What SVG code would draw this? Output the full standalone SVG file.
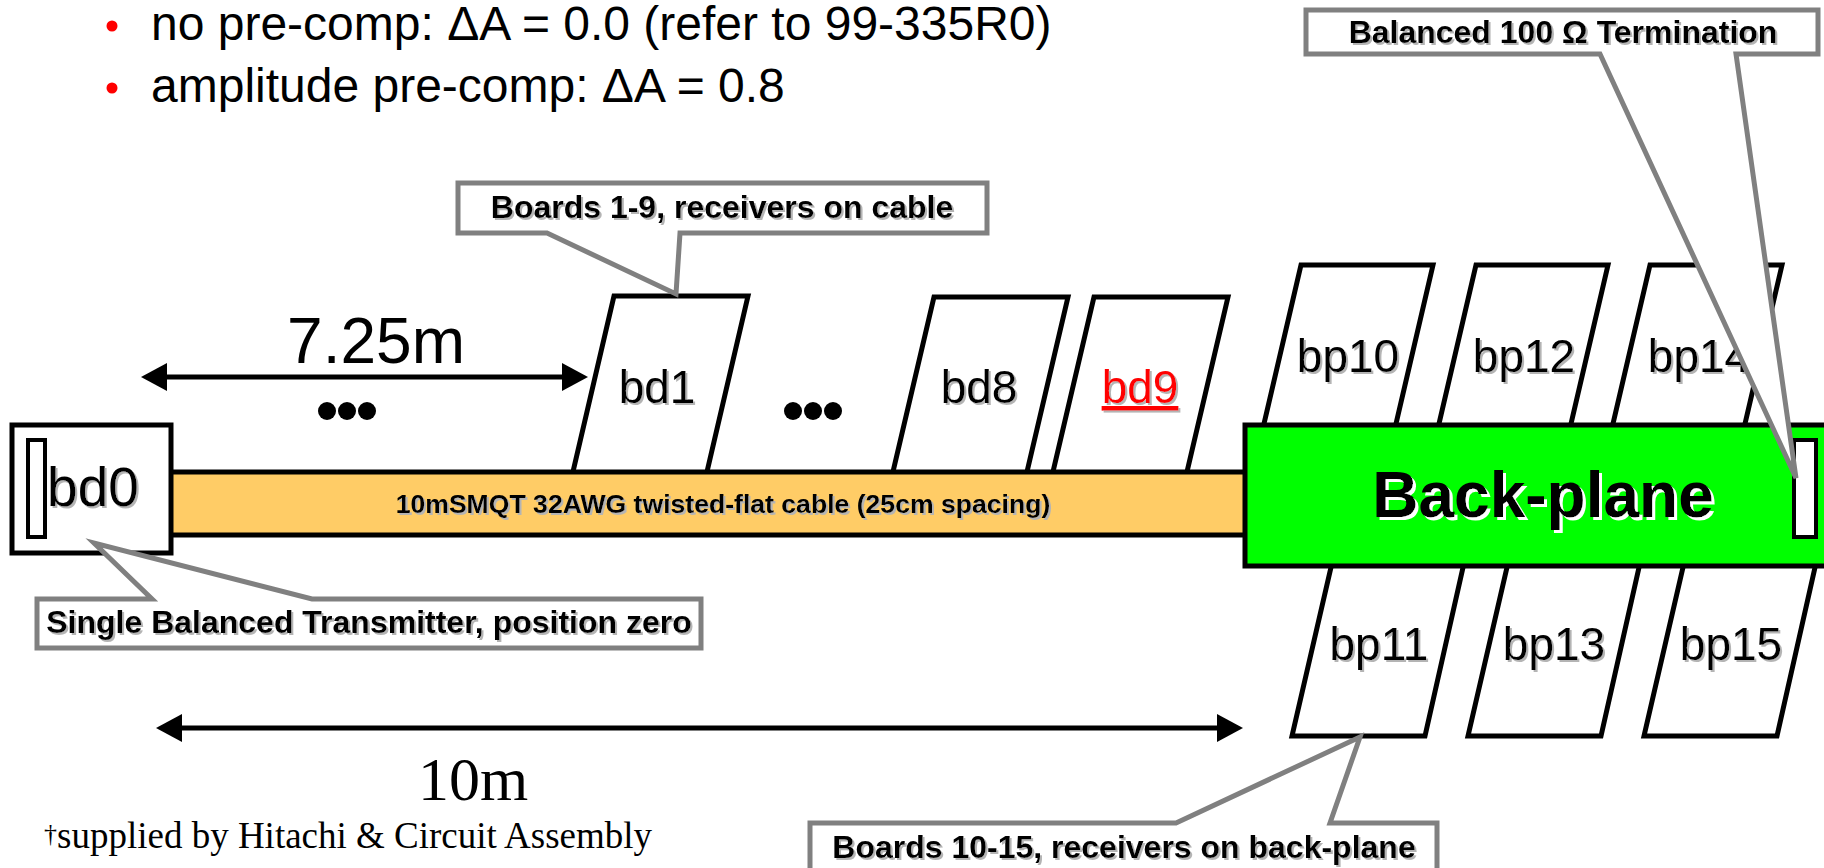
<svg xmlns="http://www.w3.org/2000/svg" width="1824" height="868" viewBox="0 0 1824 868">
<defs>
<style>
.sans{font-family:"Liberation Sans",Arial,sans-serif}
.serif{font-family:"Liberation Serif","Times New Roman",serif}
.board{fill:#fff;stroke:#000;stroke-width:5;stroke-linejoin:miter}
.lbl{font-family:"Liberation Sans",Arial,sans-serif;font-size:46px;fill:#000;text-anchor:middle;filter:url(#sh)}
.call{fill:#fff;stroke:#808080;stroke-width:5;stroke-linejoin:miter}
.ctxt{font-family:"Liberation Sans",Arial,sans-serif;font-size:32px;font-weight:bold;fill:#000;text-anchor:middle;filter:url(#sh)}
.dim{stroke:#000;stroke-width:5;fill:none}
.dot{fill:#000}
</style>
<filter id="sh" x="-10%" y="-10%" width="130%" height="140%">
<feDropShadow dx="2" dy="2" stdDeviation="0" flood-color="#b4b4b4" flood-opacity="1"/>
</filter>
<filter id="wsh" x="-10%" y="-10%" width="130%" height="140%">
<feDropShadow dx="3" dy="3" stdDeviation="0" flood-color="#ffffff" flood-opacity="1"/>
</filter>
<marker id="ah" viewBox="0 -14 26 28" refX="0" refY="0" markerWidth="26" markerHeight="28" markerUnits="userSpaceOnUse" orient="auto-start-reverse">
<path d="M0,-14 L26,0 L0,14 Z" fill="#000"/>
</marker>
</defs>
<rect width="1824" height="868" fill="#fff"/>

<g id="bullets" class="sans">
<circle cx="112" cy="26" r="5.5" fill="#ff0000"/>
<text x="151" y="40" font-size="48">no pre-comp: ΔA = 0.0 (refer to 99-335R0)</text>
<circle cx="112" cy="88" r="5.5" fill="#ff0000"/>
<text x="151" y="102" font-size="48">amplitude pre-comp: ΔA = 0.8</text>
</g>

<!-- boards on cable -->
<g id="bd1"><polygon class="board" points="614,296 748,296 706,476 572,476"/><text class="lbl" x="657" y="403">bd1</text></g>
<g id="bd8"><polygon class="board" points="934,297 1068,297 1026,476 892,476"/><text class="lbl" x="979" y="403">bd8</text></g>
<g id="bd9"><polygon class="board" points="1094,297 1228,297 1186,476 1052,476"/><text class="lbl" x="1140" y="403" fill="#ff0000" style="fill:#ff0000" text-decoration="underline">bd9</text></g>

<!-- back-plane boards top -->
<g id="bp10"><polygon class="board" points="1301,265 1433,265 1395,428 1263,428"/><text class="lbl" x="1348" y="372">bp10</text></g>
<g id="bp12"><polygon class="board" points="1476,265 1608,265 1570,428 1438,428"/><text class="lbl" x="1524" y="372">bp12</text></g>
<g id="bp14"><polygon class="board" points="1650,265 1782,265 1744,428 1612,428"/><text class="lbl" x="1699" y="372">bp14</text></g>

<!-- back-plane boards bottom -->
<g id="bp11"><polygon class="board" points="1332,563 1464,563 1425,736 1292,736"/><text class="lbl" x="1379" y="660">bp11</text></g>
<g id="bp13"><polygon class="board" points="1508,563 1640,563 1601,736 1468,736"/><text class="lbl" x="1554" y="660">bp13</text></g>
<g id="bp15"><polygon class="board" points="1684,563 1816,563 1777,736 1644,736"/><text class="lbl" x="1731" y="660">bp15</text></g>

<g id="cable">
<rect x="170" y="472" width="1076" height="63" fill="#ffcc66" stroke="#000" stroke-width="5"/>
<text class="sans" x="723" y="513" font-size="26.6" font-weight="bold" text-anchor="middle" filter="url(#sh)">10mSMQT 32AWG twisted-flat cable (25cm spacing)</text>
</g>

<g id="bd0">
<rect x="12" y="425" width="159" height="128" fill="#fff" stroke="#000" stroke-width="5"/>
<rect x="28" y="440" width="17" height="97" fill="#fff" stroke="#000" stroke-width="4"/>
<text class="lbl" x="93" y="506" style="font-size:55px">bd0</text>
</g>

<g id="backplane">
<rect x="1245" y="425" width="600" height="141" fill="#00ff00" stroke="#000" stroke-width="5"/>
<text class="sans" x="1543" y="517" font-size="64" font-weight="bold" text-anchor="middle" filter="url(#wsh)">Back-plane</text>
</g>

<g id="termination"><rect x="1794" y="440" width="22" height="97" fill="#fff" stroke="#000" stroke-width="4"/></g>

<g id="dots1"><circle class="dot" cx="327" cy="411" r="9"/><circle class="dot" cx="347" cy="411" r="9"/><circle class="dot" cx="367" cy="411" r="9"/></g>
<g id="dots2"><circle class="dot" cx="793" cy="411" r="9"/><circle class="dot" cx="813" cy="411" r="9"/><circle class="dot" cx="833" cy="411" r="9"/></g>

<g id="connectors">
<line class="dim" x1="167" y1="377" x2="562" y2="377" marker-start="url(#ah)" marker-end="url(#ah)"/>
<line class="dim" x1="182" y1="728" x2="1217" y2="728" marker-start="url(#ah)" marker-end="url(#ah)"/>
</g>

<g id="dim-labels">
<text class="sans" x="376" y="363" font-size="64" text-anchor="middle">7.25m</text>
<text class="serif" x="473" y="800" font-size="62" text-anchor="middle">10m</text>
<text class="serif" x="44" y="848" font-size="37"><tspan font-size="26" dy="-6">†</tspan><tspan dy="6">supplied by Hitachi &amp; Circuit Assembly</tspan></text>
</g>

<g id="callout-boards19">
<path class="call" d="M458,183 H987 V233 H680 L676,294 L547,233 H458 Z"/>
<text class="ctxt" x="722" y="218">Boards 1-9, receivers on cable</text>
</g>

<g id="callout-termination">
<path class="call" d="M1306,10 H1818 V54 H1736 L1796,478 L1600,54 H1306 Z"/>
<text class="ctxt" x="1563" y="43">Balanced 100 Ω Termination</text>
</g>

<g id="callout-transmitter">
<path class="call" d="M37,599 H152 L94,543 L312,599 H701 V648 H37 Z"/>
<text class="ctxt" x="369" y="633">Single Balanced Transmitter, position zero</text>
</g>

<g id="callout-boards1015">
<path class="call" d="M810,823 H1176 L1360,737 L1330,823 H1437 V880 H810 Z"/>
<text class="ctxt" x="1124" y="858">Boards 10-15, receivers on back-plane</text>
</g>
</svg>
